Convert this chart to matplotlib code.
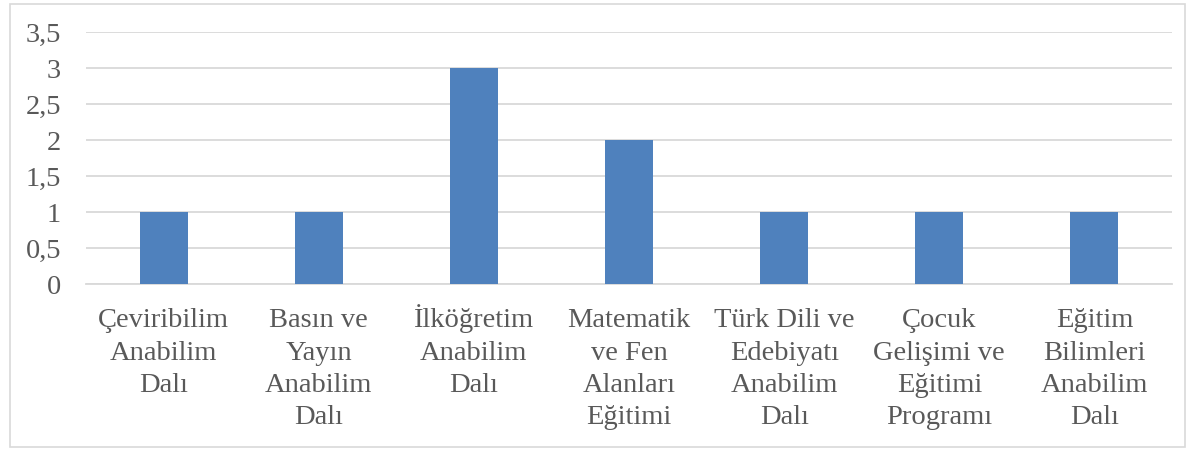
import matplotlib.pyplot as plt
from matplotlib.patches import Rectangle
from matplotlib.ticker import FuncFormatter

# Data
bolumler = [
    "Çeviribilim\nAnabilim\nDalı",
    "Basın ve\nYayın\nAnabilim\nDalı",
    "İlköğretim\nAnabilim\nDalı",
    "Matematik\nve Fen\nAlanları\nEğitimi",
    "Türk Dili ve\nEdebiyatı\nAnabilim\nDalı",
    "Çocuk\nGelişimi ve\nEğitimi\nProgramı",
    "Eğitim\nBilimleri\nAnabilim\nDalı",
]
sayilar = [1, 1, 3, 2, 1, 1, 1]
y_ticks = [0, 0.5, 1, 1.5, 2, 2.5, 3, 3.5]

bar_renk = "#4F81BD"
yazi_renk = "#595959"
cizgi_renk = "#D9D9D9"

plt.rcParams["font.family"] = ["Liberation Serif", "DejaVu Serif"]

fig = plt.figure(figsize=(11.95, 4.51), dpi=100)
ax = fig.add_axes([86 / 1195, 167 / 451, (1172 - 86) / 1195, (284 - 32) / 451])

# Plot
x = range(len(bolumler))
ax.bar(x, sayilar, width=0.31, color=bar_renk, zorder=3)

ax.set_xlim(-0.5, len(bolumler) - 0.5)
ax.set_ylim(0, 3.5)
ax.set_yticks(y_ticks)
ax.yaxis.set_major_formatter(FuncFormatter(lambda v, p: ("%g" % v).replace(".", ",")))

# all labels get the same number of lines so the first lines line up
n_satir = max(b.count("\n") for b in bolumler) + 1
etiketler = [b + "\n " * (n_satir - 1 - b.count("\n")) for b in bolumler]
ax.set_xticks(list(x))
ax.set_xticklabels(etiketler, linespacing=1.37)
for lab in ax.get_xticklabels():
    lab.set_verticalalignment("baseline")

ax.grid(axis="y", color=cizgi_renk, linewidth=1.3, zorder=0)
for s in ["top", "right", "left"]:
    ax.spines[s].set_visible(False)
ax.spines["bottom"].set_color(cizgi_renk)
ax.spines["bottom"].set_linewidth(1.3)

ax.tick_params(axis="both", length=0, labelsize=20.5, colors=yazi_renk)
ax.tick_params(axis="y", pad=18)
ax.tick_params(axis="x", pad=100.5)

# Border
fig.patches.append(
    Rectangle((10 / 1195, 4 / 451), 1175 / 1195, 443 / 451, transform=fig.transFigure,
              fill=False, edgecolor=cizgi_renk, linewidth=1.2)
)

fig.savefig("out.png", dpi=100)
